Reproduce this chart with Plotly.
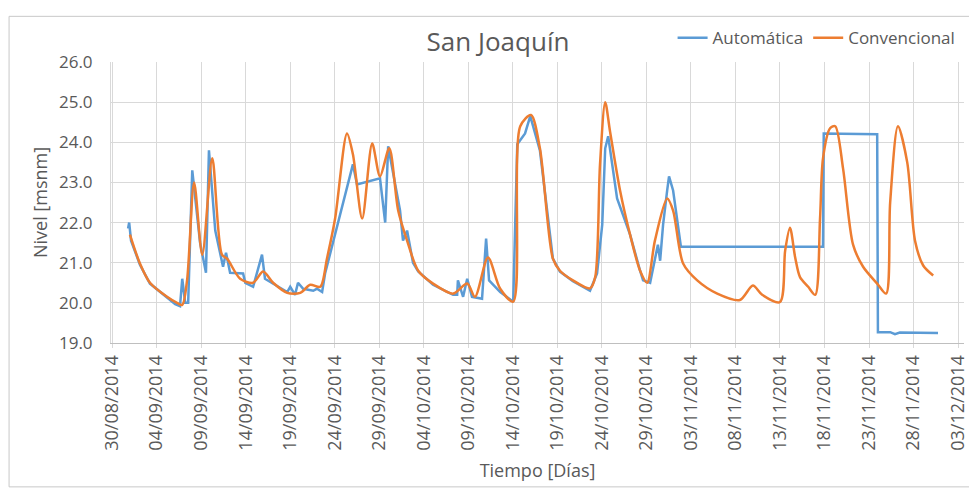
import plotly.graph_objects as go

# Nivel del agua - estacion San Joaquin
conv_fechas = [
    "2014-09-01 00:00", "2014-09-02 03:00", "2014-09-03 06:00", "2014-09-05 04:00",
    "2014-09-06 07:00", "2014-09-06 21:00", "2014-09-07 10:00", "2014-09-08 05:00",
    "2014-09-09 03:00", "2014-09-10 06:00", "2014-09-11 08:00", "2014-09-11 22:00",
    "2014-09-13 09:00", "2014-09-14 20:00", "2014-09-15 23:00", "2014-09-17 02:00",
    "2014-09-18 16:00", "2014-09-20 03:00", "2014-09-21 06:00", "2014-09-22 09:00",
    "2014-09-23 03:00", "2014-09-24 01:00", "2014-09-25 09:00", "2014-09-26 01:00",
    "2014-09-27 02:00", "2014-09-28 05:00", "2014-09-29 02:00", "2014-09-30 03:00",
    "2014-10-01 03:00", "2014-10-02 03:00", "2014-10-03 09:00", "2014-10-05 01:00",
    "2014-10-07 07:00", "2014-10-08 21:00", "2014-10-09 18:00", "2014-10-11 05:00",
    "2014-10-12 14:00", "2014-10-14 01:00", "2014-10-14 20:00", "2014-10-16 01:00",
    "2014-10-17 01:00", "2014-10-18 12:00", "2014-10-19 07:00", "2014-10-20 18:00",
    "2014-10-22 16:00", "2014-10-23 06:00", "2014-10-23 19:00", "2014-10-24 09:00",
    "2014-10-24 22:00", "2014-10-26 01:00", "2014-10-27 04:00", "2014-10-28 07:00",
    "2014-10-29 02:00", "2014-10-29 23:00", "2014-10-31 08:00", "2014-11-01 00:00",
    "2014-11-02 03:00", "2014-11-03 17:00", "2014-11-05 23:00", "2014-11-08 12:00",
    "2014-11-09 23:00", "2014-11-11 00:00", "2014-11-13 00:00", "2014-11-13 14:00",
    "2014-11-14 03:00", "2014-11-14 17:00", "2014-11-15 06:00", "2014-11-16 04:00",
    "2014-11-16 23:00", "2014-11-17 12:00", "2014-11-17 20:00", "2014-11-18 15:00",
    "2014-11-19 05:00", "2014-11-20 02:00", "2014-11-21 05:00", "2014-11-22 08:00",
    "2014-11-23 22:00", "2014-11-24 22:00", "2014-11-25 09:00", "2014-11-26 06:00",
    "2014-11-27 07:00", "2014-11-28 04:00", "2014-11-29 02:00", "2014-11-30 05:00",
]
conv_nivel = [
    21.7, 20.98, 20.5, 20.15,
    20.0, 19.95, 20.56, 23.0,
    21.2, 23.6, 21.2, 21.1,
    20.6, 20.5, 20.78, 20.5,
    20.25, 20.25, 20.45, 20.4,
    21.1, 22.1, 24.22, 23.7,
    22.1, 23.97, 23.15, 23.85,
    22.3, 21.55, 20.8, 20.48,
    20.23, 20.48, 20.15, 21.13,
    20.35, 20.03, 24.4, 24.68,
    23.85, 21.1, 20.8, 20.56,
    20.36, 20.64, 23.45, 25.0,
    24.27, 22.8, 21.7, 20.8,
    20.5, 21.55, 22.6, 22.3,
    20.98, 20.56, 20.23, 20.07,
    20.43, 20.2, 20.02, 21.3,
    21.87, 21.13, 20.64, 20.4,
    20.2, 22.1, 23.6, 24.35,
    24.4, 23.35, 21.45, 20.9,
    20.48, 20.23, 22.5, 24.4,
    23.5, 21.55, 20.93, 20.68,
]

auto_fechas = [
    "2014-08-31 19:00", "2014-08-31 22:00", "2014-09-01 03:00", "2014-09-02 03:00",
    "2014-09-03 06:00", "2014-09-05 04:00", "2014-09-06 02:00", "2014-09-06 15:00",
    "2014-09-06 21:00", "2014-09-07 05:00", "2014-09-07 13:00", "2014-09-08 00:00",
    "2014-09-08 21:00", "2014-09-09 13:00", "2014-09-09 21:00", "2014-09-10 14:00",
    "2014-09-11 11:00", "2014-09-11 19:00", "2014-09-12 06:00", "2014-09-13 17:00",
    "2014-09-13 23:00", "2014-09-14 20:00", "2014-09-15 20:00", "2014-09-16 04:00",
    "2014-09-18 16:00", "2014-09-19 00:00", "2014-09-19 13:00", "2014-09-19 21:00",
    "2014-09-20 11:00", "2014-09-21 14:00", "2014-09-22 00:00", "2014-09-22 14:00",
    "2014-09-22 22:00", "2014-09-26 01:00", "2014-09-26 12:00", "2014-09-29 02:00",
    "2014-09-29 16:00", "2014-09-30 00:00", "2014-10-01 08:00", "2014-10-01 16:00",
    "2014-10-02 03:00", "2014-10-02 19:00", "2014-10-03 09:00", "2014-10-05 01:00",
    "2014-10-07 07:00", "2014-10-07 18:00", "2014-10-07 20:00", "2014-10-08 10:00",
    "2014-10-08 21:00", "2014-10-09 10:00", "2014-10-10 13:00", "2014-10-11 00:00",
    "2014-10-11 08:00", "2014-10-12 14:00", "2014-10-14 01:00", "2014-10-14 12:00",
    "2014-10-15 09:00", "2014-10-15 23:00", "2014-10-17 01:00", "2014-10-18 12:00",
    "2014-10-19 07:00", "2014-10-20 18:00", "2014-10-22 16:00", "2014-10-23 11:00",
    "2014-10-24 01:00", "2014-10-24 09:00", "2014-10-24 17:00", "2014-10-25 17:00",
    "2014-10-27 04:00", "2014-10-28 07:00", "2014-10-28 15:00", "2014-10-29 10:00",
    "2014-10-29 23:00", "2014-10-30 07:00", "2014-10-30 13:00", "2014-10-30 21:00",
    "2014-10-31 08:00", "2014-10-31 13:00", "2014-11-01 00:00", "2014-11-01 19:00",
    "2014-11-01 21:00", "2014-11-17 20:00", "2014-11-17 22:00", "2014-11-23 22:00",
    "2014-11-24 00:00", "2014-11-25 09:00", "2014-11-25 22:00", "2014-11-26 11:00",
    "2014-11-30 18:00",
]
auto_nivel = [
    21.85, 22.0, 21.55, 20.95,
    20.48, 20.12, 19.97, 19.92,
    20.6, 20.0, 20.0, 23.3,
    21.5, 20.75, 23.8, 21.8,
    20.9, 21.25, 20.75, 20.73,
    20.5, 20.4, 21.2, 20.6,
    20.27, 20.4, 20.2, 20.5,
    20.35, 20.3, 20.35, 20.27,
    20.73, 23.45, 22.95, 23.1,
    22.0, 23.9, 22.3, 21.55,
    21.8, 21.0, 20.78, 20.45,
    20.2, 20.2, 20.56, 20.15,
    20.6, 20.15, 20.1, 21.6,
    20.56, 20.27, 20.03, 23.95,
    24.22, 24.65, 23.8, 21.1,
    20.78, 20.54, 20.3, 20.73,
    21.95, 23.85, 24.15, 22.6,
    21.7, 20.8, 20.56, 20.5,
    21.1, 21.45, 21.05, 21.95,
    22.8, 23.15, 22.8, 21.45,
    21.4, 21.4, 24.22, 24.2,
    19.27, 19.27, 19.22, 19.26,
    19.25,
]

gris = "#595959"
fuente = "Open Sans"

fig = go.Figure()
fig.add_trace(go.Scatter(
    x=auto_fechas, y=auto_nivel, mode="lines", name="Automática",
    line=dict(color="#5B9BD5", width=2.5),
))
fig.add_trace(go.Scatter(
    x=conv_fechas, y=conv_nivel, mode="lines", name="Convencional",
    line=dict(color="#ED7D31", width=2.5, shape="spline", smoothing=0.8),
))

# marco del grafico
fig.add_shape(type="rect", xref="paper", yref="paper",
              x0=-0.1195, x1=1.0129, y0=-0.512, y1=1.1625,
              line=dict(color="#c8c8c8", width=1), layer="below")

# la pagina tiene 8 px de margen en el body: tamaño y margenes compensados
fig.update_layout(
    width=969, height=484,
    margin=dict(l=103, r=13, t=52, b=149),
    paper_bgcolor="white", plot_bgcolor="white",
    font=dict(family=fuente, color=gris, size=17),
    title=dict(text="San Joaquín", x=0.5057, xanchor="center", y=0.93, yanchor="middle",
               font=dict(size=26, color=gris)),
    legend=dict(orientation="h", x=0.996, xanchor="right", y=1.085, yanchor="middle",
                font=dict(size=17, color=gris), bgcolor="rgba(0,0,0,0)",
                itemwidth=30, tracegroupgap=0),
    showlegend=True,
)
fig.update_xaxes(
    type="date", range=["2014-08-29 21:00", "2014-12-03 16:00"], automargin=False,
    tick0="2014-08-30", dtick=5 * 86400000, tickformat="%d/%m/%Y", tickangle=-90,
    showgrid=True, gridcolor="#d9d9d9", gridwidth=1,
    showline=True, linecolor="#bfbfbf", linewidth=1,
    ticks="outside", ticklen=4, tickcolor="#d9d9d9",
    tickfont=dict(size=18, color=gris),
    title=dict(text="Tiempo [Días]", font=dict(size=18, color=gris), standoff=14),
    zeroline=False,
)
fig.update_yaxes(
    range=[19, 26], dtick=1, tickformat=".1f", automargin=False,
    showgrid=True, gridcolor="#d9d9d9", gridwidth=1,
    showline=True, linecolor="#d9d9d9", linewidth=1,
    ticks="", ticklabelstandoff=14,
    tickfont=dict(size=17, color=gris),
    title=dict(text="Nivel [msnm]", font=dict(size=18, color=gris), standoff=6),
    zeroline=False,
)

fig.write_html("out.html")
